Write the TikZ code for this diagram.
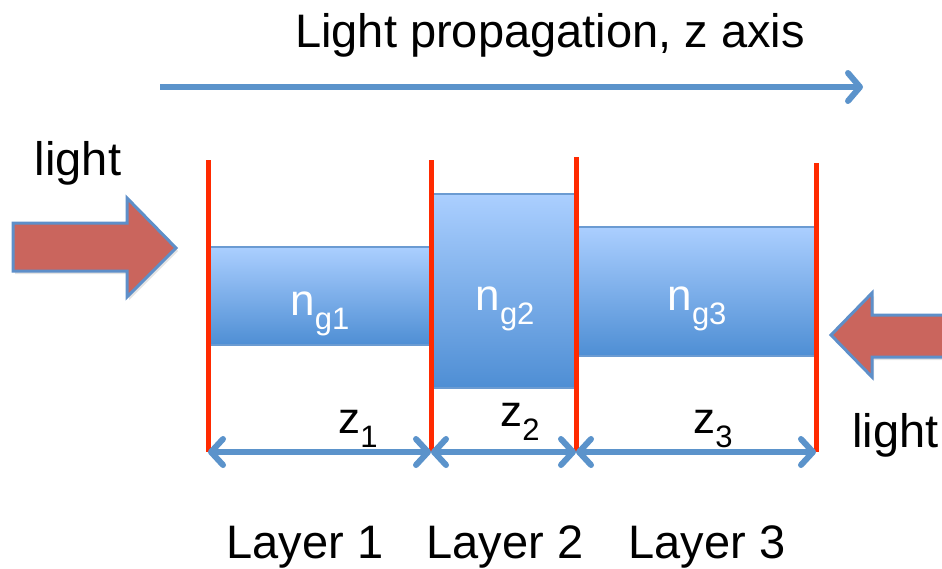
\documentclass[tikz,border=0pt]{standalone}
\usepackage{fontspec}
\setmainfont{Liberation Sans}
\usetikzlibrary{arrows.meta,shadows}
\definecolor{lineblue}{HTML}{5B93CB}
\definecolor{redline}{HTML}{FF2A00}
\definecolor{boxtop}{HTML}{ABCFFF}
\definecolor{boxbot}{HTML}{4E8ED4}
\definecolor{boxedge}{HTML}{6B9BD2}
\definecolor{arrowfill}{HTML}{CA655D}
\definecolor{arrowedge}{HTML}{5E8FC9}
\newcommand\lowsub[1]{\raisebox{-0.32em}{\fontsize{31}{36}\selectfont #1}}
\begin{document}
\begin{tikzpicture}[x=1pt,y=-1pt,
  bigtext/.style={font=\fontsize{47}{56}\selectfont, inner sep=0, anchor=base},
  nlabel/.style={font=\fontsize{44}{52}\selectfont, inner sep=0, anchor=base, text=white},
  zlabel/.style={font=\fontsize{44}{52}\selectfont, inner sep=0, anchor=base},
  layerbox/.style={draw=boxedge, line width=1.2pt, top color=boxtop, bottom color=boxbot, inner sep=0},
  redl/.style={draw=redline, line width=5pt},
  dimarrow/.style={draw=lineblue, line width=6pt, line cap=round,
    {Straight Barb[length=12pt, width=26pt, round]}-{Straight Barb[length=12pt, width=26pt, round]}},
  axisarrow/.style={draw=lineblue, line width=6pt,
    -{Straight Barb[length=12pt, width=28pt, round]}},
  blockarrow/.style={fill=arrowfill, draw=arrowedge, line width=3pt, line join=miter,
    drop shadow={opacity=0.22, shadow xshift=2pt, shadow yshift=-3pt}}
]
\useasboundingbox (0,0) rectangle (942,568);

% title and axis arrow
\node[bigtext] (title) at (550,47) {Light propagation, z axis};
\coordinate (zs) at (160,87);
\coordinate (ze) at (863,87);
\draw[axisarrow] (zs) -- (ze);

% layers
\node[layerbox, minimum width=223, minimum height=98] (b1) at (319.5,296) {};
\node[layerbox, minimum width=145, minimum height=194] (b2) at (503.5,291) {};
\node[layerbox, minimum width=240, minimum height=129] (b3) at (696,291.5) {};

\node[nlabel] (n1) at (320,315) {n\lowsub{g1}};
\node[nlabel] (n2) at (505,310) {n\lowsub{g2}};
\node[nlabel] (n3) at (697,310) {n\lowsub{g3}};

% red boundaries
\coordinate (r1t) at (208,160); \coordinate (r1b) at (208,452);
\coordinate (r2t) at (431,160); \coordinate (r2b) at (431,452);
\coordinate (r3t) at (576,157); \coordinate (r3b) at (576,452);
\coordinate (r4t) at (816,163); \coordinate (r4b) at (816,452);
\draw[redl] (r1t) -- (r1b);
\draw[redl] (r2t) -- (r2b);
\draw[redl] (r3t) -- (r3b);
\draw[redl] (r4t) -- (r4b);

% thickness arrows
\draw[dimarrow] (r1b) -- (r2b);
\draw[dimarrow] (r2b) -- (r3b);
\draw[dimarrow] (r3b) -- (r4b);

\node[zlabel] (z1) at (358,433) {z\lowsub{1}};
\node[zlabel] (z2) at (520,426) {z\lowsub{2}};
\node[zlabel] (z3) at (713,433) {z\lowsub{3}};

% incoming light arrows
\draw[blockarrow] (13,223) -- (127,223) -- (127,198) -- (176,248) -- (127,297) -- (127,271) -- (13,271) -- cycle;
\begin{scope}
\clip (0,0) rectangle (942,568);
\draw[blockarrow] (831,335) -- (872,293) -- (872,315) -- (955,315) -- (955,357) -- (872,357) -- (872,377) -- cycle;
\end{scope}

\node[bigtext] (lightL) at (78,175) {light};
\node[bigtext, anchor=base west] (lightR) at (852,447) {light};

% layer names
\node[bigtext] (lay1) at (305,558) {Layer 1};
\node[bigtext] (lay2) at (505,558) {Layer 2};
\node[bigtext] (lay3) at (707,558) {Layer 3};
\end{tikzpicture}
\end{document}
